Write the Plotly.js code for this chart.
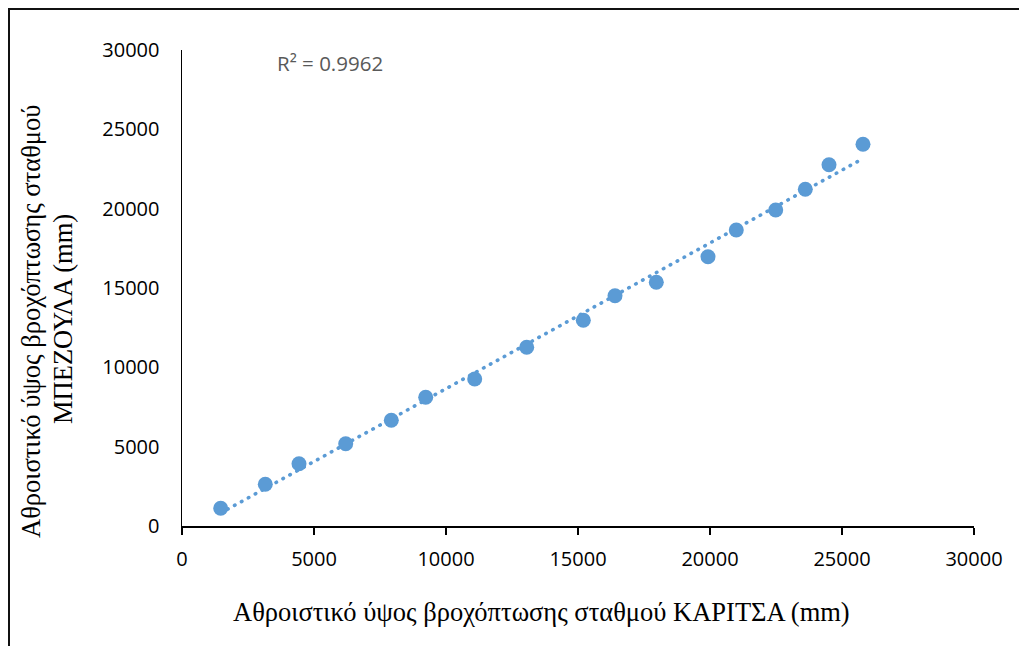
<!DOCTYPE html>
<html>
<head>
<meta charset="utf-8">
<script src="https://cdn.plot.ly/plotly-3.0.1.min.js"></script>
<style>
  html, body { margin: 0; padding: 0; background: #fff; overflow: hidden; }
  #wrap { position: relative; width: 1019px; height: 646px; }
  #chart { position: absolute; left: 0; top: 0; width: 1019px; height: 646px; }
  #frame { position: absolute; left: 8px; top: 8px; width: 1030px; height: 660px;
           border-left: 2px solid #111; border-top: 2px solid #111; pointer-events: none; }
  /* round dots for the dotted trend line */
  .scatterlayer .js-line { stroke-linecap: round; }
</style>
</head>
<body>
<div id="wrap">
  <div id="chart"></div>
  <div id="frame"></div>
</div>
<script>
// Cumulative rainfall (mm): Karditsa station (x) vs Mpezoula station (y)
const karditsa = [1466, 3155, 4432, 6201, 7928, 9231, 11087, 13057, 15201, 16402,
                  17966, 19924, 20996, 22489, 23610, 24508, 25795];
const mpezoula = [1116, 2628, 3926, 5187, 6662, 8111, 9265, 11262, 12964, 14514,
                  15359, 16972, 18655, 19915, 21220, 22771, 24056];
const axisTicks = [0, 5000, 10000, 15000, 20000, 25000, 30000];
const r2Label = 'R² = 0.9962';
const xTitle = 'Αθροιστικό ύψος βροχόπτωσης σταθμού ΚΑΡΙΤΣΑ (mm)';
const yTitleLines = ['Αθροιστικό ύψος βροχόπτωσης σταθμού', 'ΜΠΕΖΟΥΛΑ (mm)'];

// Least-squares linear trend line over the observed x range
function linearFit(xs, ys) {
  const n = xs.length;
  const mx = xs.reduce((a, b) => a + b, 0) / n;
  const my = ys.reduce((a, b) => a + b, 0) / n;
  let sxy = 0, sxx = 0;
  for (let i = 0; i < n; i++) { sxy += (xs[i] - mx) * (ys[i] - my); sxx += (xs[i] - mx) ** 2; }
  const slope = sxy / sxx;
  return { slope, intercept: my - slope * mx };
}
const fit = linearFit(karditsa, mpezoula);
const xMin = Math.min(...karditsa), xMax = Math.max(...karditsa);
const trendX = [xMin, xMax];
const trendY = trendX.map(x => fit.intercept + fit.slope * x);

const blue = '#5B9BD5';
const tickFont = { family: 'Open Sans, Noto Sans, sans-serif', size: 20, color: '#000' };
const titleFont = { family: 'Liberation Serif, Times New Roman, serif', size: 26.5, color: '#000' };

const traces = [
  {
    x: trendX, y: trendY, type: 'scatter', mode: 'lines',
    line: { color: blue, width: 3.6, dash: '0.5px,7.4px' },
    hoverinfo: 'skip', showlegend: false
  },
  {
    x: karditsa, y: mpezoula, type: 'scatter', mode: 'markers',
    marker: { color: blue, size: 15, line: { width: 0 } },
    showlegend: false
  }
];

const L = 182, R = 45, T = 50, B = 120;
const plotW = 1019 - L - R, plotH = 646 - T - B;
const px = p => (p - L) / plotW;          // page x -> paper x
const py = p => (646 - B - p) / plotH;    // page y -> paper y

const layout = {
  width: 1019, height: 646,
  margin: { l: L, r: R, t: T, b: B, pad: 0 },
  paper_bgcolor: '#fff', plot_bgcolor: '#fff',
  showlegend: false,
  xaxis: {
    range: [0, 30000], tickvals: axisTicks, ticktext: axisTicks.map(String),
    showgrid: false, zeroline: false,
    showline: true, linecolor: '#000', linewidth: 1.5,
    ticks: 'outside', ticklen: 7, tickwidth: 1.5, tickcolor: '#000',
    tickfont: tickFont, ticklabelstandoff: 7
  },
  yaxis: {
    range: [0, 30000], tickvals: axisTicks, ticktext: axisTicks.map(String),
    showgrid: false, zeroline: false,
    showline: true, linecolor: '#000', linewidth: 1.5,
    ticks: '', tickfont: tickFont, ticklabelstandoff: 17
  },
  annotations: [
    { xref: 'paper', yref: 'paper', x: px(275), y: py(63), xanchor: 'left', yanchor: 'middle',
      text: r2Label, showarrow: false,
      font: { family: 'Open Sans, Noto Sans, sans-serif', size: 20.5, color: '#595959' } },
    { xref: 'paper', yref: 'paper', x: px(541), y: py(612), xanchor: 'center', yanchor: 'middle',
      text: xTitle, showarrow: false, font: titleFont },
    { xref: 'paper', yref: 'paper', x: px(31), y: py(322), xanchor: 'center', yanchor: 'middle',
      text: yTitleLines[0], textangle: -90, showarrow: false, font: titleFont },
    { xref: 'paper', yref: 'paper', x: px(63), y: py(319), xanchor: 'center', yanchor: 'middle',
      text: yTitleLines[1], textangle: -90, showarrow: false, font: titleFont }
  ]
};

Plotly.newPlot('chart', traces, layout, { staticPlot: true, displayModeBar: false });
</script>
</body>
</html>
